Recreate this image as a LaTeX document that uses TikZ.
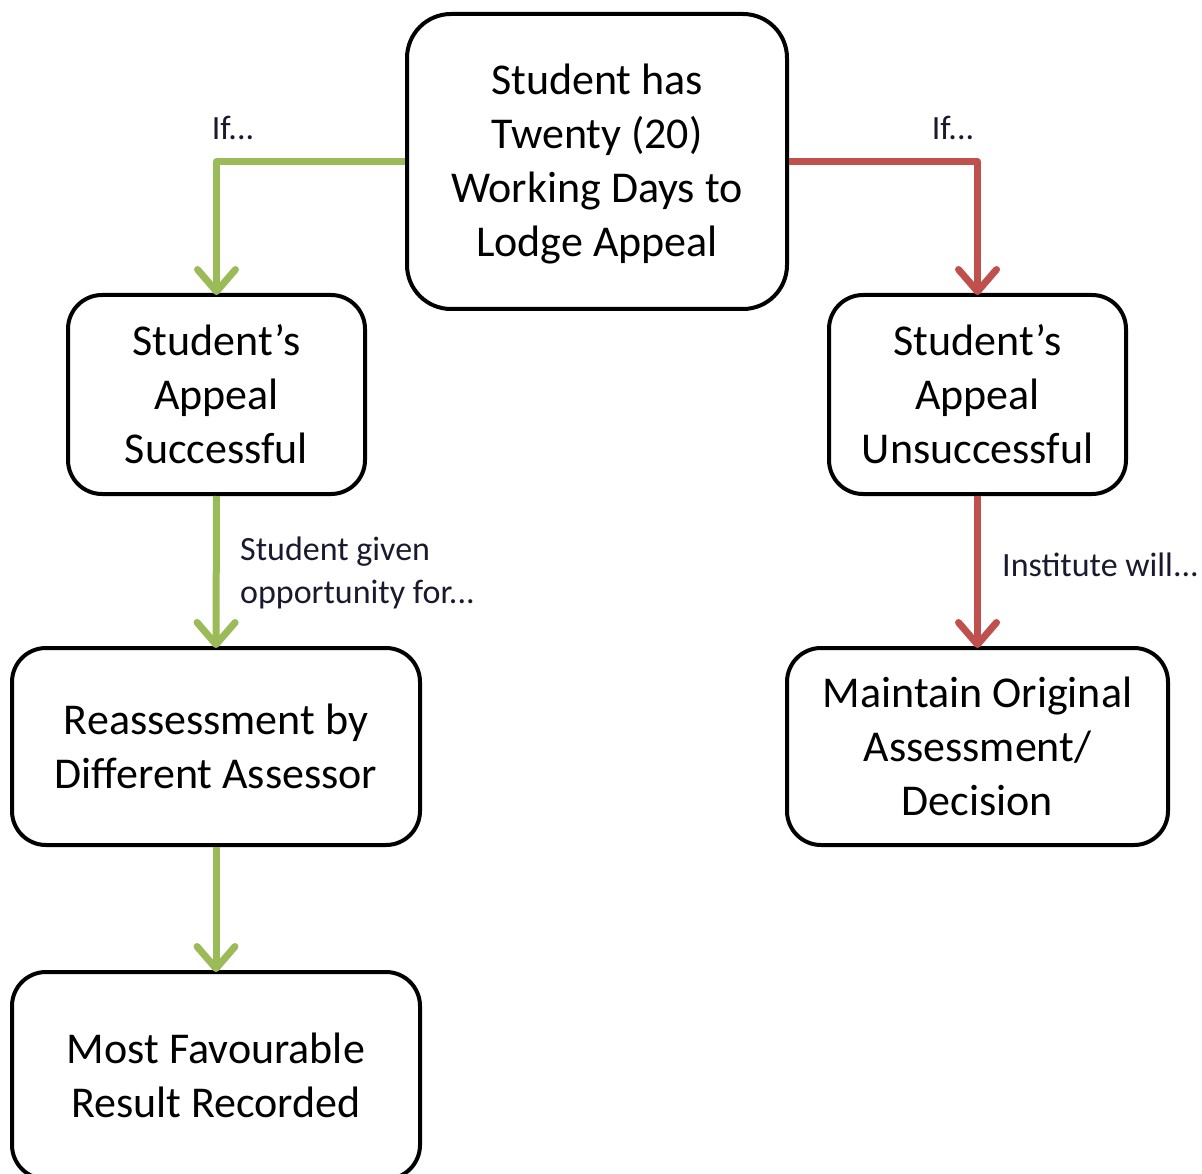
\documentclass[tikz,border=0pt]{standalone}
\usepackage{fontspec}
\setmainfont{Carlito}
\usetikzlibrary{arrows.meta}
\definecolor{okgreen}{HTML}{9BBB59}
\definecolor{nored}{HTML}{C0504D}
\definecolor{labeltext}{HTML}{1A1A2E}
\begin{document}
\begin{tikzpicture}[x=1pt,y=-1pt,
  box/.style={draw=black,line width=4pt,rounded corners=34pt,fill=white,
    inner sep=0pt,align=center,font=\fontsize{44}{54}\selectfont},
  flow/.style={line width=7pt,line join=round,
    -{Straight Barb[length=22pt,width=38pt,line width=7pt,round]}},
  yes/.style={flow,draw=okgreen},
  no/.style={flow,draw=nored},
  lbl/.style={inner sep=0pt,text=labeltext,font=\fontsize{34}{43}\selectfont}]
\useasboundingbox (0,0) rectangle (1202,1174);

% decision boxes (a strut on the first line sets the top text slightly lower)
\node[box,rounded corners=44pt,minimum width=380pt,minimum height=295pt] (start) at (597,161.5)
  {\rule{0pt}{36pt}Student has\\Twenty (20)\\Working Days to\\Lodge Appeal};
\node[box,minimum width=297pt,minimum height=199pt] (success) at (216.5,394.5)
  {Student’s\\Appeal\\Successful};
\node[box,minimum width=297pt,minimum height=199pt] (fail) at (977.5,394.5)
  {Student’s\\Appeal\\Unsuccessful};
\node[box,minimum width=408pt,minimum height=197pt] (reassess) at (216,746.5)
  {Reassessment by\\Different Assessor};
\node[box,minimum width=381pt,minimum height=197pt] (maintain) at (977.5,746.5)
  {Maintain Original\\Assessment/\\Decision};
\node[box,minimum width=408pt,minimum height=207pt] (result) at (216,1075.5)
  {Most Favourable\\Result Recorded};

% connectors
\draw[yes] (start.west) -| ([yshift=-2pt]success.north);
\draw[no] (start.east) -| ([yshift=-2pt]fail.north);
\draw[yes] (success.south) -- ([yshift=-2pt]reassess.north);
\draw[no] (fail.south) -- ([yshift=-2pt]maintain.north);
\draw[yes] (reassess.south) -- ([yshift=-2pt]result.north);

% connector labels
\node[lbl] (ifleft) at (233,128) {If...};
\node[lbl] (ifright) at (953,128) {If...};
\node[lbl,anchor=west,align=left] (given) at (240,572.5) {Student given\\opportunity for...};
\node[lbl,anchor=west] (institute) at (1002,565) {Institute will...};
\end{tikzpicture}
\end{document}
